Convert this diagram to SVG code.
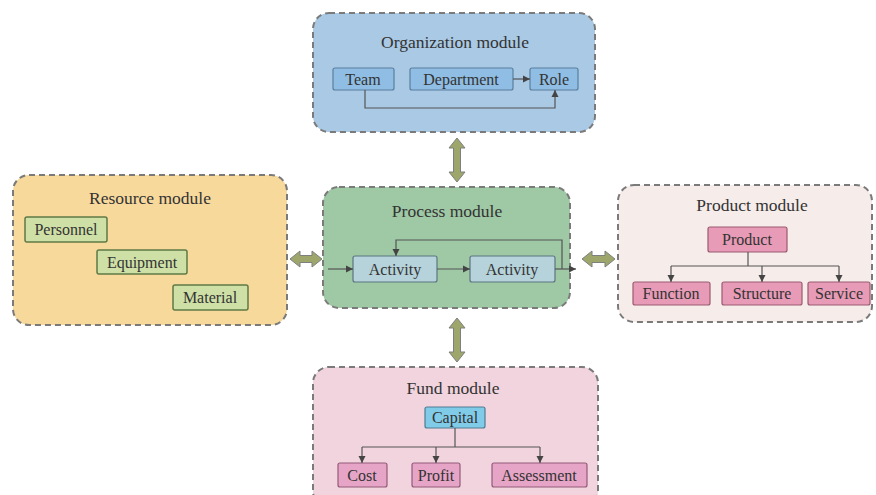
<svg xmlns="http://www.w3.org/2000/svg" width="876" height="495" viewBox="0 0 876 495">
<defs>
<style>
.mod{stroke:#7a7a7a;stroke-width:2;stroke-dasharray:6,4}
.title{font-family:"Liberation Serif",serif;font-size:17.5px;fill:#333;text-anchor:middle}
.lbl{font-family:"Liberation Serif",serif;font-size:16px;fill:#333;text-anchor:middle}
.org{fill:#8fbde3;stroke:#5a7f9e;stroke-width:1.2}
.res{fill:#cfe0a6;stroke:#5f7a46;stroke-width:1.5}
.act{fill:#b6d3dc;stroke:#5d7580;stroke-width:1.2}
.prd{fill:#e89bb6;stroke:#9a5a70;stroke-width:1.2}
.cap{fill:#80cbe8;stroke:#4f7c92;stroke-width:1.2}
.fnd{fill:#e6a5c6;stroke:#935a78;stroke-width:1.2}
.ln{fill:none;stroke:#555;stroke-width:1.2}
.dbl{fill:#9ea66c;stroke:#7d8080;stroke-width:1}
</style>
<marker id="ah" markerWidth="8" markerHeight="8" refX="7" refY="4" orient="auto" markerUnits="userSpaceOnUse">
<path d="M0,0.5 L7,4 L0,7.5 z" fill="#444"/>
</marker>
</defs>
<rect width="876" height="495" fill="#fff"/>

<g id="organization-module">
<rect class="mod" x="313" y="13" width="282" height="119" rx="16" fill="#a9c9e4"/>
<text class="title" x="455" y="48">Organization module</text>
<g id="team"><rect class="org" x="333" y="68" width="61" height="22" rx="2"/><text class="lbl" x="363" y="85">Team</text></g>
<g id="department"><rect class="org" x="410" y="68" width="103" height="22" rx="2"/><text class="lbl" x="461" y="85">Department</text></g>
<g id="role"><rect class="org" x="530" y="68" width="48" height="22" rx="2"/><text class="lbl" x="554" y="85">Role</text></g>
</g>

<g id="resource-module">
<rect class="mod" x="13" y="175" width="274" height="150" rx="16" fill="#f8d99c"/>
<text class="title" x="150" y="204">Resource module</text>
<g id="personnel"><rect class="res" x="25" y="217" width="82" height="25" rx="2"/><text class="lbl" x="66" y="235">Personnel</text></g>
<g id="equipment"><rect class="res" x="97" y="250" width="90" height="24" rx="2"/><text class="lbl" x="142" y="268">Equipment</text></g>
<g id="material"><rect class="res" x="173" y="285" width="75" height="25" rx="2"/><text class="lbl" x="210" y="303">Material</text></g>
</g>

<g id="process-module">
<rect class="mod" x="323" y="187" width="247" height="121" rx="16" fill="#9fc8a5"/>
<text class="title" x="447" y="217">Process module</text>
<g id="activity1"><rect class="act" x="353" y="256" width="84" height="26" rx="2"/><text class="lbl" x="395" y="275">Activity</text></g>
<g id="activity2"><rect class="act" x="470" y="256" width="85" height="26" rx="2"/><text class="lbl" x="512" y="275">Activity</text></g>
</g>

<g id="product-module">
<rect class="mod" x="618" y="185" width="254" height="137" rx="16" fill="#f6ecea"/>
<text class="title" x="752" y="211">Product module</text>
<g id="product"><rect class="prd" x="708" y="227" width="79" height="25" rx="2"/><text class="lbl" x="747" y="245">Product</text></g>
<g id="function"><rect class="prd" x="633" y="282" width="77" height="23" rx="2"/><text class="lbl" x="671" y="299">Function</text></g>
<g id="structure"><rect class="prd" x="722" y="282" width="80" height="23" rx="2"/><text class="lbl" x="762" y="299">Structure</text></g>
<g id="service"><rect class="prd" x="808" y="282" width="62" height="23" rx="2"/><text class="lbl" x="839" y="299">Service</text></g>
</g>

<g id="fund-module">
<rect class="mod" x="313" y="367" width="285" height="140" rx="16" fill="#f1d4dd"/>
<text class="title" x="453" y="394">Fund module</text>
<g id="capital"><rect class="cap" x="425" y="407" width="60" height="21" rx="2"/><text class="lbl" x="455" y="423">Capital</text></g>
<g id="cost"><rect class="fnd" x="338" y="463" width="49" height="24" rx="2"/><text class="lbl" x="362" y="481">Cost</text></g>
<g id="profit"><rect class="fnd" x="412" y="463" width="48" height="24" rx="2"/><text class="lbl" x="436" y="481">Profit</text></g>
<g id="assessment"><rect class="fnd" x="492" y="463" width="95" height="24" rx="2"/><text class="lbl" x="539" y="481">Assessment</text></g>
</g>

<g id="connectors">
<path class="ln" d="M513,79 L530,79" marker-end="url(#ah)"/>
<path class="ln" d="M365,90 L365,108 L555,108 L555,90" marker-end="url(#ah)"/>
<path class="ln" d="M328,269 L353,269" marker-end="url(#ah)"/>
<path class="ln" d="M437,269 L470,269" marker-end="url(#ah)"/>
<path class="ln" d="M555,269 L576,269" marker-end="url(#ah)"/>
<path class="ln" d="M562,269 L562,240 L396,240 L396,256" marker-end="url(#ah)"/>
<path class="ln" d="M748,252 L748,266"/>
<path class="ln" d="M671,266 L839,266"/>
<path class="ln" d="M671,266 L671,282" marker-end="url(#ah)"/>
<path class="ln" d="M762,266 L762,282" marker-end="url(#ah)"/>
<path class="ln" d="M839,266 L839,282" marker-end="url(#ah)"/>
<path class="ln" d="M455,428 L455,447"/>
<path class="ln" d="M362,447 L540,447"/>
<path class="ln" d="M362,447 L362,463" marker-end="url(#ah)"/>
<path class="ln" d="M436,447 L436,463" marker-end="url(#ah)"/>
<path class="ln" d="M540,447 L540,463" marker-end="url(#ah)"/>
<polygon class="dbl" points="457,138 465,148 460.5,148 460.5,172 465,172 457,182 449,172 453.5,172 453.5,148 449,148"/>
<polygon class="dbl" points="457,318 465,328 460.5,328 460.5,352 465,352 457,362 449,352 453.5,352 453.5,328 449,328"/>
<polygon class="dbl" points="290,259 300,251 300,255.5 312,255.5 312,251 322,259 312,267 312,262.5 300,262.5 300,267"/>
<polygon class="dbl" points="582,259 592,251 592,255.5 605,255.5 605,251 615,259 605,267 605,262.5 592,262.5 592,267"/>
</g>
</svg>
